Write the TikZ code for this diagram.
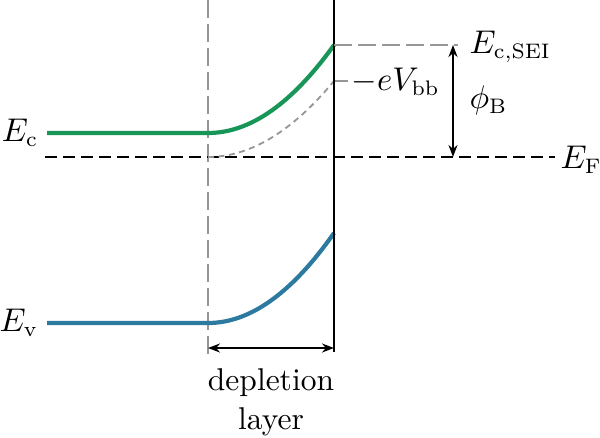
\documentclass[tikz,border=0pt]{standalone}
\usetikzlibrary{arrows.meta}
\definecolor{cbgreen}{RGB}{24,150,88}
\definecolor{cbblue}{RGB}{44,122,160}
\definecolor{guide}{RGB}{150,150,150}
\begin{document}
\begin{tikzpicture}[x=0.3333pt,y=-0.3333pt,
  band/.style={line width=1.4pt},
  guideline/.style={guide,line width=0.6pt,dash pattern=on 6pt off 2pt},
  fermi/.style={black,line width=0.8pt,dash pattern=on 4pt off 2pt},
  dimarrow/.style={black,line width=0.8pt,{Stealth[length=4pt]}-{Stealth[length=4pt]}},
  lbl/.style={inner sep=1pt,font=\fontsize{10.5}{13}\selectfont}]
\useasboundingbox (0,0) rectangle (600,437);
% guide lines
\coordinate (gtop) at (208,0);
\coordinate (gbot) at (208,356);
\draw[guideline] (gtop) -- (gbot);
\coordinate (itop) at (334,0);
\coordinate (ibot) at (334,352);
% Fermi level
\coordinate (fl) at (45,157);
\coordinate (fr) at (555,157);
\draw[fermi] (fl) -- (fr);
\node[lbl,anchor=west] (EF) at (557,160) {$E_{\mathrm{F}}$};
% conduction band
\coordinate (cs) at (47,133);
\coordinate (cm) at (208,133);
\coordinate (ce) at (334,45);
\draw[band,cbgreen] (cs) -- (cm) .. controls (250,133) and (292,103.7) .. (ce);
\node[lbl,anchor=east] (Ec) at (42,133) {$E_{\mathrm{c}}$};
% flat-band reference curve
\coordinate (fm) at (208,157);
\coordinate (fe) at (334,81);
\draw[guide,line width=0.6pt,dash pattern=on 2pt off 1.5pt] (fm) .. controls (250,157) and (292,131.7) .. (fe);
\node[lbl,anchor=west] (Vbb) at (348,82) {$-eV_{\mathrm{bb}}$};
\draw[guideline] (fe) -- (fe -| Vbb.west);
% valence band
\coordinate (vs) at (47,323);
\coordinate (vm) at (208,323);
\coordinate (ve) at (334,233);
\draw[band,cbblue] (vs) -- (vm) .. controls (250,323) and (292,293) .. (ve);
\node[lbl,anchor=east] (Ev) at (42,323) {$E_{\mathrm{v}}$};
% interface
\draw[black,line width=0.8pt] (itop) -- (ibot);
% SEI level
\coordinate (sr) at (458,45);
\draw[guideline] (ce) -- (sr);
\node[lbl,anchor=west] (Ecsei) at (466,47) {$E_{\mathrm{c,SEI}}$};
% barrier
\coordinate (bt) at (453,45);
\coordinate (bb) at (453,157);
\draw[dimarrow] (bt) -- (bb);
\node[lbl,anchor=west] (phiB) at (466,100) {$\phi_{\mathrm{B}}$};
% depletion layer
\coordinate (dl) at (208,348);
\coordinate (dr) at (334,348);
\draw[dimarrow] (dl) -- (dr);
\node[lbl,align=center,anchor=north] (dep) at (271,365) {depletion\\layer};
\end{tikzpicture}
\end{document}
